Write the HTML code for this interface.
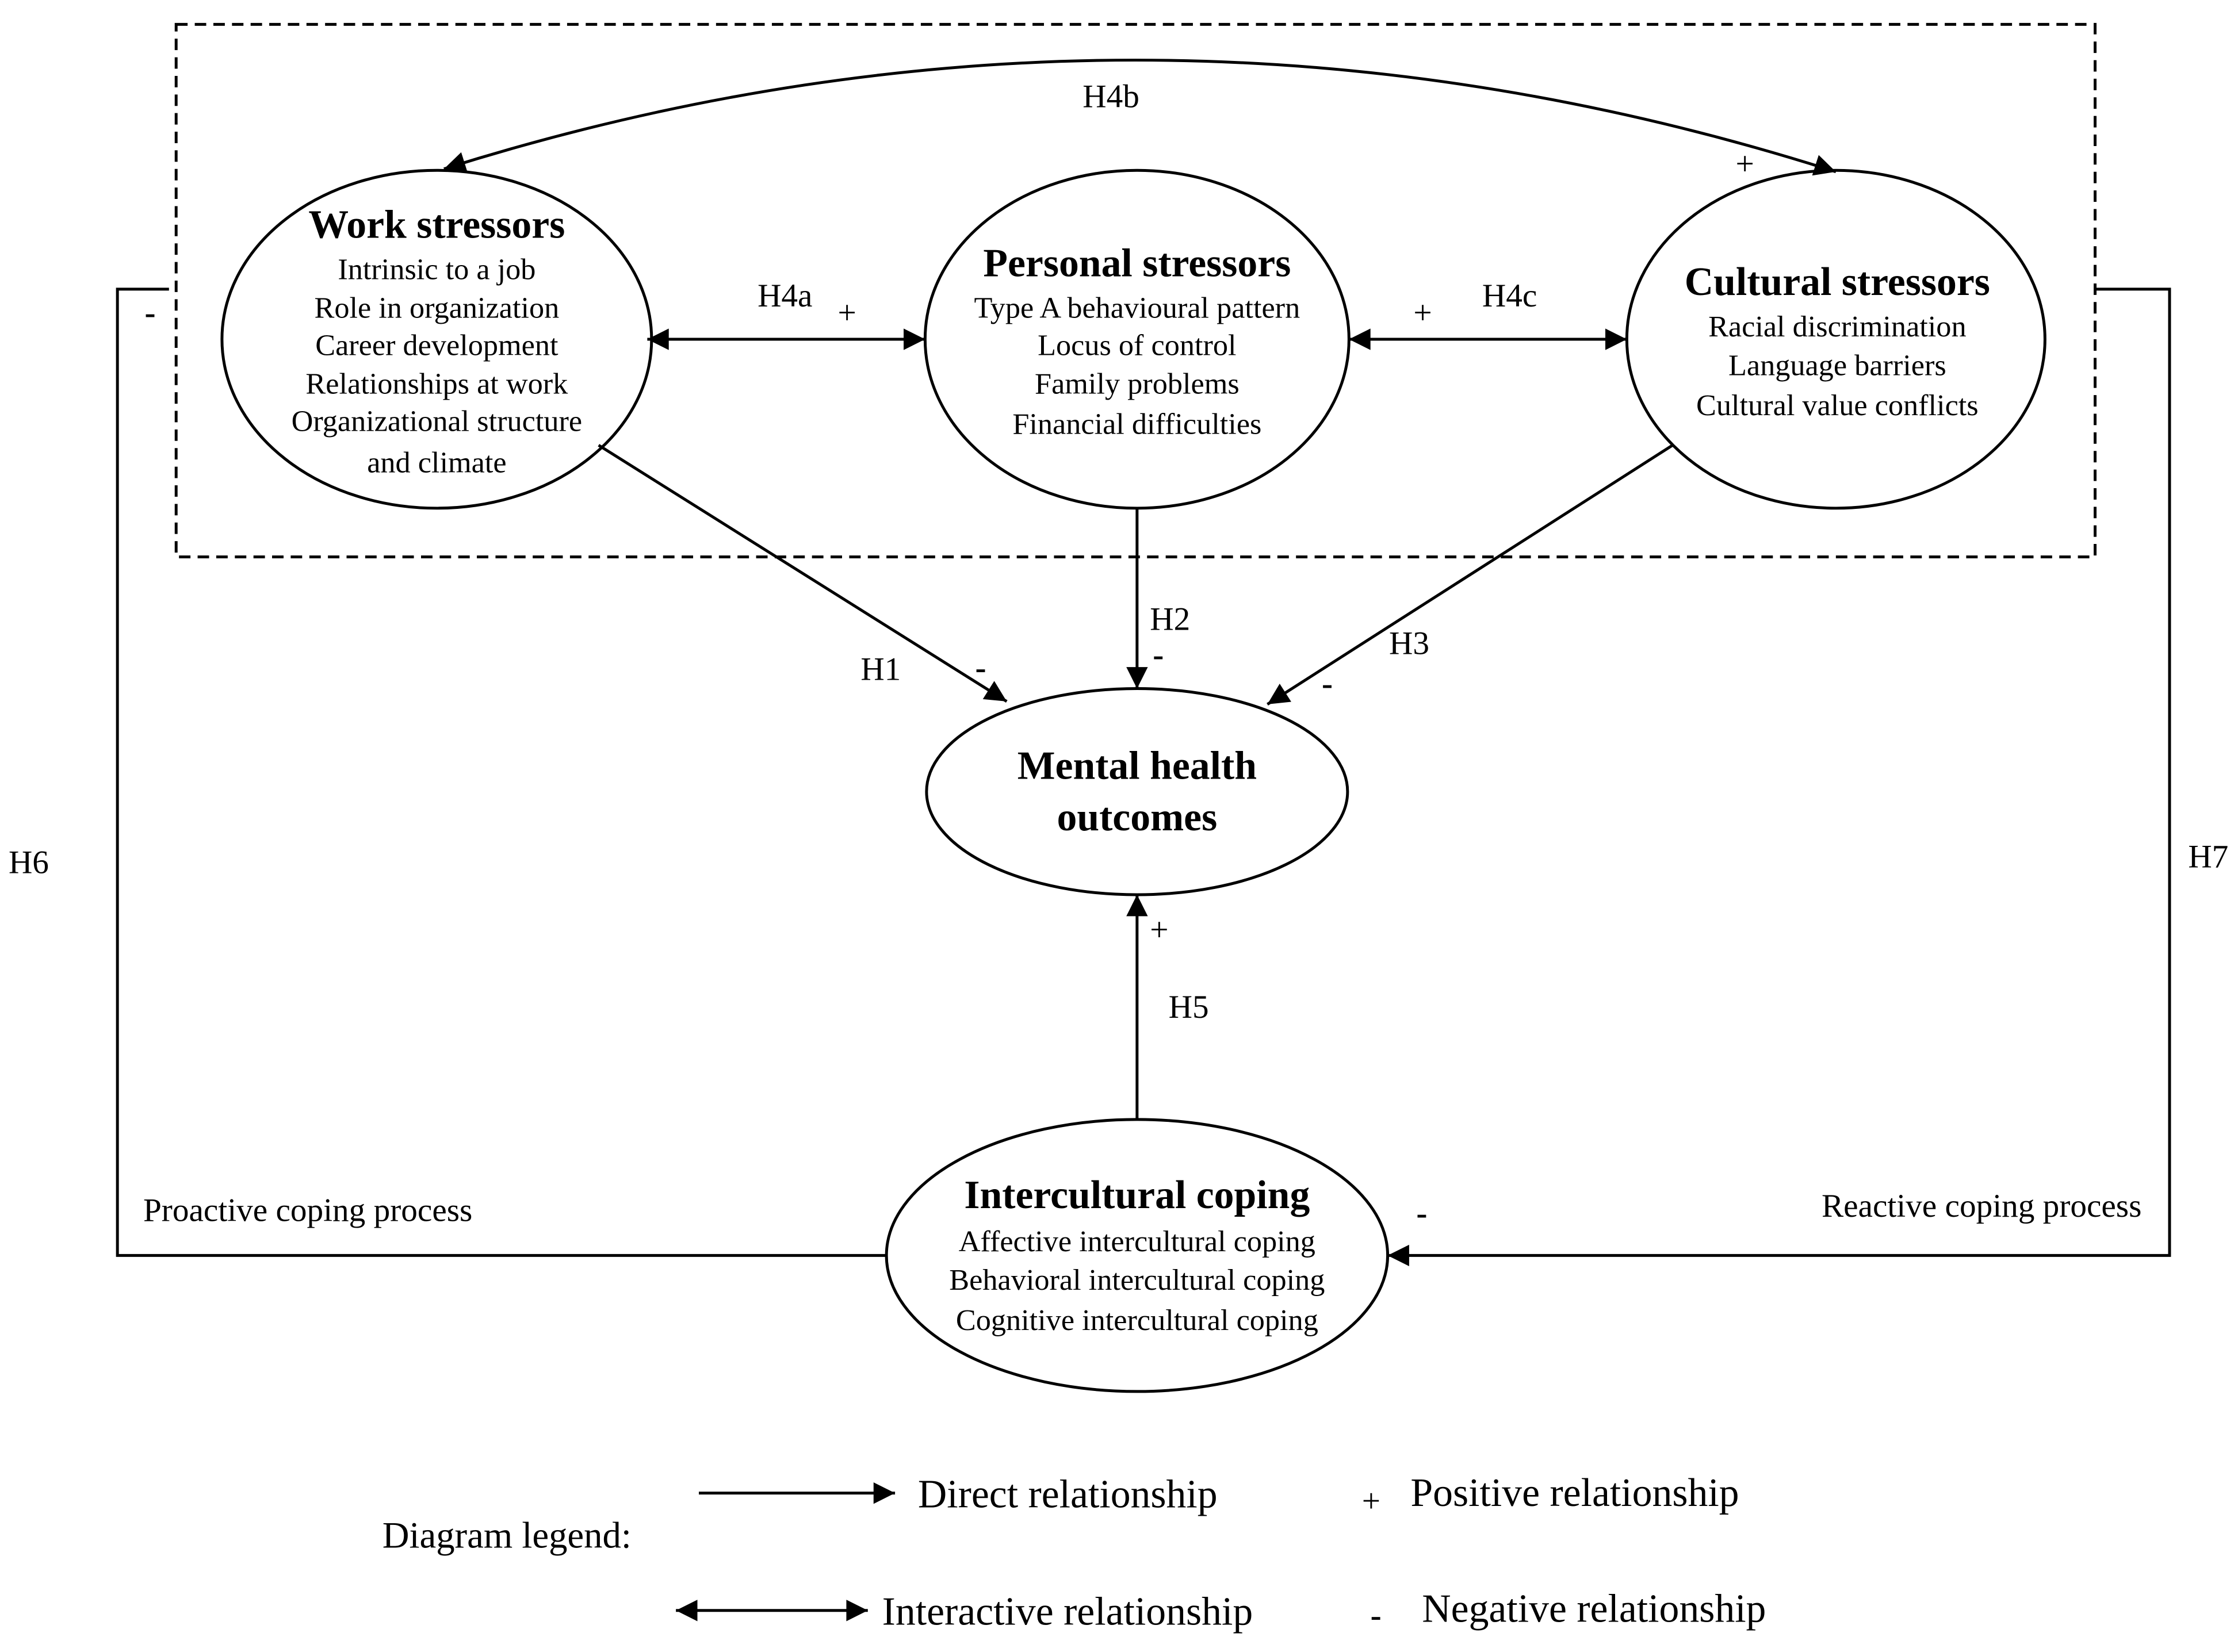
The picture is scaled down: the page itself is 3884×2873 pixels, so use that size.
<!DOCTYPE html>
<html><head><meta charset="utf-8"><style>
html,body{margin:0;padding:0;background:#fff;}
svg{display:block;}
text{font-family:"Liberation Serif",serif;fill:#000;}
</style></head><body>
<svg width="3884" height="2873" viewBox="0 0 1560 1154" preserveAspectRatio="none" xmlns="http://www.w3.org/2000/svg">
<defs>
<marker id="b" viewBox="0 0 10 10" refX="10" refY="5" markerWidth="24" markerHeight="15" markerUnits="userSpaceOnUse" orient="auto-start-reverse">
<path d="M0,0 L10,5 L0,10 z" fill="#000"/></marker>
</defs>
<g fill="none" stroke="#000" stroke-width="2">
<rect x="123" y="17" width="1340" height="372" stroke-dasharray="8,5"/>
<ellipse cx="305" cy="237" rx="150" ry="118" fill="#fff"/>
<ellipse cx="794" cy="237" rx="148" ry="118" fill="#fff"/>
<ellipse cx="1282" cy="237" rx="146" ry="118" fill="#fff"/>
<ellipse cx="794" cy="553" rx="147" ry="72"/>
<ellipse cx="794" cy="877" rx="175" ry="95"/>
<path d="M310,118 Q796,-35 1282,120" marker-start="url(#b)" marker-end="url(#b)"/>
<line x1="452" y1="237" x2="646" y2="237" marker-start="url(#b)" marker-end="url(#b)"/>
<line x1="942" y1="237" x2="1136" y2="237" marker-start="url(#b)" marker-end="url(#b)"/>
<line x1="418" y1="311" x2="703" y2="490" marker-end="url(#b)"/>
<line x1="794" y1="355" x2="794" y2="481" marker-end="url(#b)"/>
<line x1="1168" y1="311" x2="885" y2="492" marker-end="url(#b)"/>
<line x1="794" y1="782" x2="794" y2="625" marker-end="url(#b)"/>
<polyline points="619,877 82,877 82,202 118,202"/>
<polyline points="1463,202 1515,202 1515,877 969,877" marker-end="url(#b)"/>
<line x1="488" y1="1043" x2="625" y2="1043" marker-end="url(#b)"/>
<line x1="472" y1="1125" x2="606" y2="1125" marker-start="url(#b)" marker-end="url(#b)"/>
</g>
<g text-anchor="middle" font-size="21">
<text x="305" y="166" font-size="28" font-weight="bold">Work stressors</text>
<text x="305" y="195">Intrinsic to a job</text>
<text x="305" y="222">Role in organization</text>
<text x="305" y="248">Career development</text>
<text x="305" y="275">Relationships at work</text>
<text x="305" y="301">Organizational structure</text>
<text x="305" y="330">and climate</text>
<text x="794" y="193" font-size="28" font-weight="bold">Personal stressors</text>
<text x="794" y="222">Type A behavioural pattern</text>
<text x="794" y="248">Locus of control</text>
<text x="794" y="275">Family problems</text>
<text x="794" y="303">Financial difficulties</text>
<text x="1283" y="206" font-size="28" font-weight="bold">Cultural stressors</text>
<text x="1283" y="235">Racial discrimination</text>
<text x="1283" y="262">Language barriers</text>
<text x="1283" y="290">Cultural value conflicts</text>
<text x="794" y="544" font-size="28" font-weight="bold">Mental health</text>
<text x="794" y="580" font-size="28" font-weight="bold">outcomes</text>
<text x="794" y="844" font-size="28" font-weight="bold">Intercultural coping</text>
<text x="794" y="874">Affective intercultural coping</text>
<text x="794" y="901">Behavioral  intercultural coping</text>
<text x="794" y="929">Cognitive intercultural coping</text>
</g>
<g font-size="23">
<text x="756" y="75">H4b</text>
<text x="1212" y="122">+</text>
<text x="529" y="214">H4a</text>
<text x="585" y="226">+</text>
<text x="987" y="226">+</text>
<text x="1035" y="214">H4c</text>
<text x="601" y="475">H1</text>
<text x="681" y="474" font-weight="bold">-</text>
<text x="803" y="440">H2</text>
<text x="805" y="465" font-weight="bold">-</text>
<text x="970" y="457">H3</text>
<text x="923" y="485" font-weight="bold">-</text>
<text x="803" y="657">+</text>
<text x="816" y="711">H5</text>
<text x="101" y="226" font-weight="bold">-</text>
<text x="989" y="855" font-weight="bold">-</text>
<text x="6" y="610">H6</text>
<text x="1528" y="606">H7</text>
<text x="100" y="853">Proactive coping process</text>
<text x="1272" y="850">Reactive coping process</text>
</g>
<g font-size="28">
<text x="267" y="1081" font-size="26">Diagram legend:</text>
<text x="641" y="1053">Direct relationship</text>
<text x="951" y="1056" font-size="23">+</text>
<text x="985" y="1052">Positive relationship</text>
<text x="616" y="1135">Interactive relationship</text>
<text x="957" y="1136" font-weight="bold" font-size="23">-</text>
<text x="993" y="1133">Negative relationship</text>
</g>
</svg>
</body></html>
